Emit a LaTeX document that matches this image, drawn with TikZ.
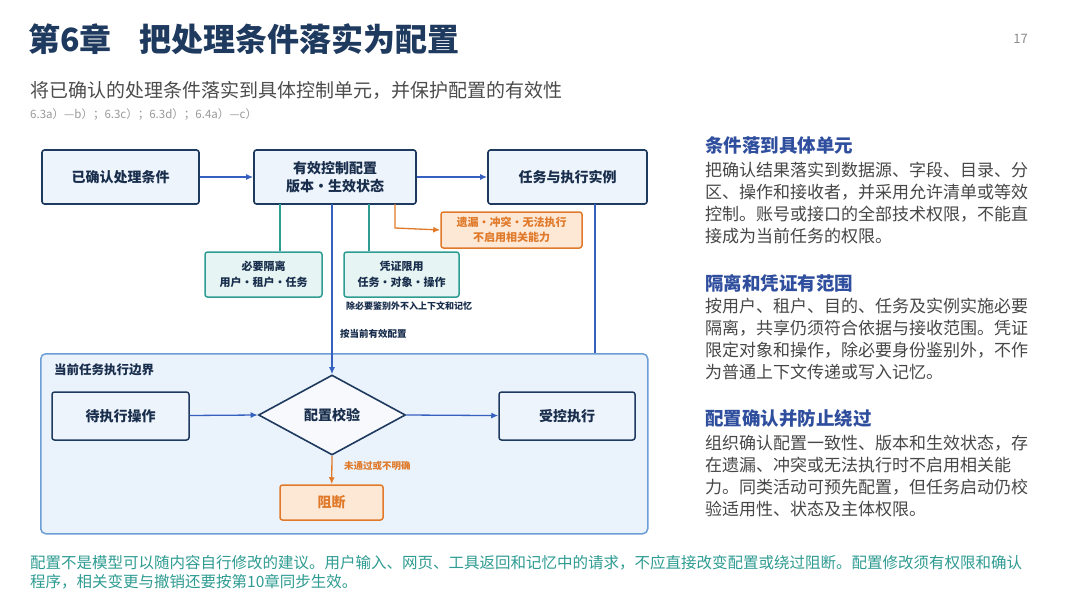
\documentclass[tikz,border=0pt]{standalone}
\usepackage{fontspec}
\setmainfont{Noto Sans CJK SC}
\usetikzlibrary{shapes.geometric,arrows.meta}
\definecolor{navy}{HTML}{1F3A5F}
\definecolor{boxfill}{HTML}{EEF4FB}
\definecolor{conn}{HTML}{3560C0}
\definecolor{teal}{HTML}{2E9C92}
\definecolor{tealfill}{HTML}{E6F5F3}
\definecolor{orng}{HTML}{E07A2A}
\definecolor{orngfill}{HTML}{FDE8D6}
\definecolor{head}{HTML}{2F4E9E}
\definecolor{bnd}{HTML}{6E9ED6}
\definecolor{bndfill}{HTML}{EAF2FB}
\begin{document}
\begin{tikzpicture}[x=1pt,y=-1pt,
  box/.style={draw=navy,line width=1.6pt,fill=boxfill,rounded corners=2.5pt,align=center,font=\fontsize{14}{18}\selectfont\bfseries,text=navy!80!black},
  tbox/.style={draw=teal,line width=1.5pt,fill=tealfill,rounded corners=2.5pt,align=center,font=\fontsize{11}{16}\selectfont\bfseries,text=navy!80!black},
  obox/.style={draw=orng,line width=1.5pt,fill=orngfill,rounded corners=2.5pt,align=center,font=\fontsize{11}{14.5}\selectfont\bfseries,text=orng},
  arr/.style={draw=conn,line width=1.3pt,-{Latex[length=7pt,width=6pt]}},
  ln/.style={draw=conn,line width=1.3pt},
  tln/.style={draw=teal,line width=1.3pt},
  oarr/.style={draw=orng,line width=1.3pt,-{Latex[length=7pt,width=6pt]}},
  small/.style={font=\fontsize{9.5}{12}\selectfont\bfseries,text=navy!80!black,anchor=west,inner sep=0},
  body/.style={anchor=north west,inner sep=0,align=left,font=\fontsize{17}{22}\selectfont,text=black!72},
  rh/.style={anchor=west,inner sep=0,font=\fontsize{18.5}{22}\selectfont\bfseries,text=head}]
\useasboundingbox[fill=white] (0,0) rectangle (1080,608);
% header
\node[anchor=west,inner sep=0,font=\fontsize{32}{34}\selectfont\bfseries,text=navy] (title) at (28,39) {第6章\hspace{28pt}把处理条件落实为配置};
\node[anchor=west,inner sep=0,font=\fontsize{19}{22}\selectfont,text=black!70] (sub) at (30,90) {将已确认的处理条件落实到具体控制单元，并保护配置的有效性};
\node[anchor=west,inner sep=0,font=\fontsize{11.5}{12}\selectfont,text=black!40] (refs) at (30,115) {6.3a）—b）；6.3c）；6.3d）；6.4a）—c）};
\node[anchor=east,inner sep=0,font=\fontsize{13}{14}\selectfont,text=black!45] (pg) at (1028,39) {17};
% boundary
\node[draw=bnd,line width=1.5pt,fill=bndfill,rounded corners=5pt,minimum width=607pt,minimum height=180pt,anchor=north west,inner sep=0] (bound) at (40,353) {};
\node[small,font=\fontsize{12.5}{14}\selectfont\bfseries] (blabel) at (54,370) {当前任务执行边界};
% top row
\node[box,minimum width=157pt,minimum height=54pt] (A) at (120.5,177) {已确认处理条件};
\node[box,minimum width=162pt,minimum height=54pt] (B) at (335,177) {有效控制配置\\版本・生效状态};
\node[box,minimum width=159pt,minimum height=54pt] (C) at (567.5,177) {任务与执行实例};
\node[obox,minimum width=141pt,minimum height=36pt] (O) at (511.5,230) {遗漏・冲突・无法执行\\不启用相关能力};
\node[tbox,minimum width=117pt,minimum height=45pt] (T1) at (263.5,274.5) {必要隔离\\用户・租户・任务};
\node[tbox,minimum width=115pt,minimum height=45pt] (T2) at (401.5,274.5) {凭证限用\\任务・对象・操作};
\node[small,font=\fontsize{9}{11}\selectfont\bfseries] (note) at (346,306) {除必要鉴别外不入上下文和记忆};
% bottom row
\node[box,minimum width=137pt,minimum height=48pt,line width=1.5pt] (P) at (120.5,416) {待执行操作};
\node[diamond,draw=navy,line width=1.6pt,fill=boxfill!80!conn!15,minimum width=147pt,minimum height=80pt,inner sep=0,font=\fontsize{14}{18}\selectfont\bfseries,text=navy!80!black] (D) at (332,415) {配置校验};
\node[box,minimum width=136pt,minimum height=48pt,line width=1.5pt] (E) at (567,416) {受控执行};
\node[obox,minimum width=103pt,minimum height=35pt,font=\fontsize{14}{16}\selectfont\bfseries] (X) at (331.5,502.5) {阻断};
% connectors
\draw[arr] (A) -- (B);
\draw[arr] (B) -- (C);
\draw[tln] (T1.north -| 280,0) -- (280,204);
\draw[tln] (T2.north -| 369,0) -- (369,204);
\coordinate (oc) at (395,228);
\draw[oarr] (395,204) -- (oc) -- (O.west);
\draw[arr] (332,204) -- (D.north);
\node[small] (lab1) at (340,334) {按当前有效配置};
\draw[ln] (595,204) -- (595,353);
\draw[arr] (P) -- (D.west);
\draw[arr] (D.east) -- (E);
\draw[oarr] (D.south) -- (X);
\node[small,font=\fontsize{9.5}{11}\selectfont\bfseries,text=orng] (lab2) at (344,466) {未通过或不明确};
% right panel
\node[rh] (h1) at (705,145) {条件落到具体单元};
\node[body] (b1) at (705,162) {把确认结果落实到数据源、字段、目录、分\\区、操作和接收者，并采用允许清单或等效\\控制。账号或接口的全部技术权限，不能直\\接成为当前任务的权限。};
\node[rh] (h2) at (705,283) {隔离和凭证有范围};
\node[body] (b2) at (705,298) {按用户、租户、目的、任务及实例实施必要\\隔离，共享仍须符合依据与接收范围。凭证\\限定对象和操作，除必要身份鉴别外，不作\\为普通上下文传递或写入记忆。};
\node[rh] (h3) at (705,418) {配置确认并防止绕过};
\node[body] (b3) at (705,435) {组织确认配置一致性、版本和生效状态，存\\在遗漏、冲突或无法执行时不启用相关能\\力。同类活动可预先配置，但任务启动仍校\\验适用性、状态及主体权限。};
% footer
\node[anchor=north west,inner sep=0,align=left,font=\fontsize{15.5}{19.5}\selectfont,text=teal] (foot) at (30,555) {配置不是模型可以随内容自行修改的建议。用户输入、网页、工具返回和记忆中的请求，不应直接改变配置或绕过阻断。配置修改须有权限和确认\\程序，相关变更与撤销还要按第10章同步生效。};
\end{tikzpicture}
\end{document}
